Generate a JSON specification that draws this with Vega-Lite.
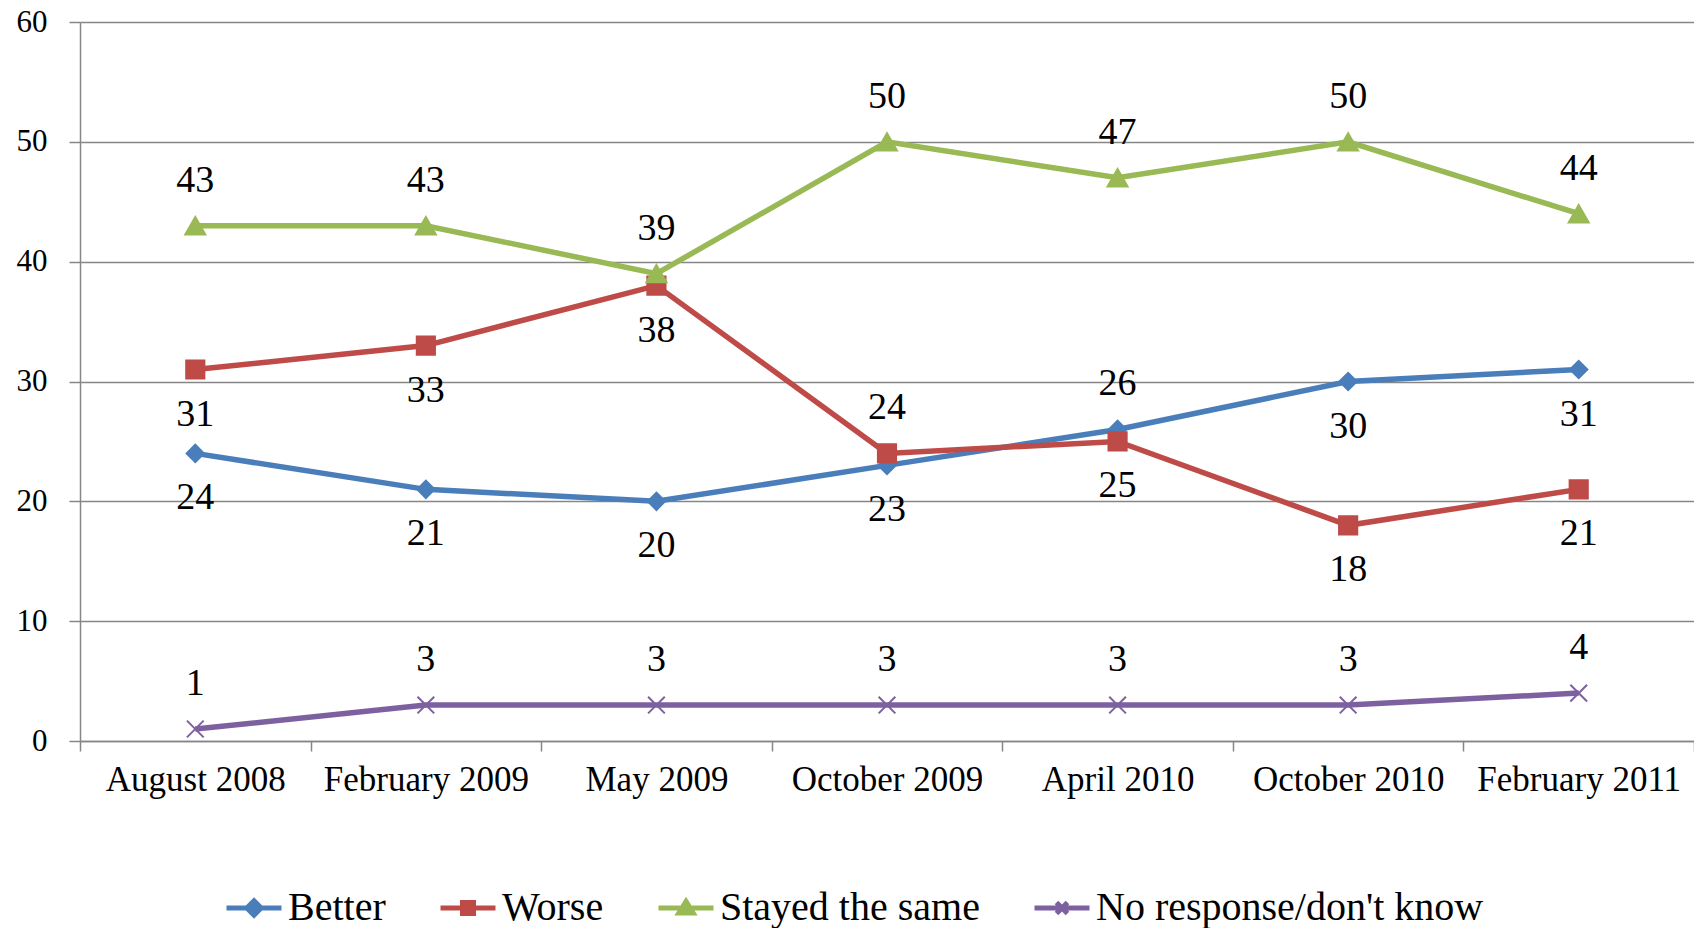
{
  "$schema": "https://vega.github.io/schema/vega-lite/v6.json",
  "autosize": {"type": "none"},
  "padding": {"left": 80, "top": 22, "right": 0, "bottom": 187},
  "width": 1614,
  "height": 719,
  "background": "white",
  "config": {
    "view": {"stroke": null},
    "font": "Liberation Serif",
    "legend": {"labelLimit": 800}
  },
  "data": {
    "values": [
      {"date": "August 2008", "series": "Better", "value": 24},
      {"date": "February 2009", "series": "Better", "value": 21},
      {"date": "May 2009", "series": "Better", "value": 20},
      {"date": "October 2009", "series": "Better", "value": 23},
      {"date": "April 2010", "series": "Better", "value": 26},
      {"date": "October 2010", "series": "Better", "value": 30},
      {"date": "February 2011", "series": "Better", "value": 31},
      {"date": "August 2008", "series": "Worse", "value": 31},
      {"date": "February 2009", "series": "Worse", "value": 33},
      {"date": "May 2009", "series": "Worse", "value": 38},
      {"date": "October 2009", "series": "Worse", "value": 24},
      {"date": "April 2010", "series": "Worse", "value": 25},
      {"date": "October 2010", "series": "Worse", "value": 18},
      {"date": "February 2011", "series": "Worse", "value": 21},
      {"date": "August 2008", "series": "Stayed the same", "value": 43},
      {"date": "February 2009", "series": "Stayed the same", "value": 43},
      {"date": "May 2009", "series": "Stayed the same", "value": 39},
      {"date": "October 2009", "series": "Stayed the same", "value": 50},
      {"date": "April 2010", "series": "Stayed the same", "value": 47},
      {"date": "October 2010", "series": "Stayed the same", "value": 50},
      {"date": "February 2011", "series": "Stayed the same", "value": 44},
      {"date": "August 2008", "series": "No response/don't know", "value": 1},
      {"date": "February 2009", "series": "No response/don't know", "value": 3},
      {"date": "May 2009", "series": "No response/don't know", "value": 3},
      {"date": "October 2009", "series": "No response/don't know", "value": 3},
      {"date": "April 2010", "series": "No response/don't know", "value": 3},
      {"date": "October 2010", "series": "No response/don't know", "value": 3},
      {"date": "February 2011", "series": "No response/don't know", "value": 4}
    ]
  },
  "encoding": {
    "x": {
      "field": "date",
      "type": "nominal",
      "sort": null,
      "scale": {"paddingInner": 0, "paddingOuter": 0},
      "axis": {
        "title": null,
        "labelAngle": 0,
        "labelLimit": 400,
        "tickBand": "extent",
        "tickSize": 10,
        "tickColor": "#868686",
        "tickWidth": 1.5,
        "domainColor": "#868686",
        "domainWidth": 1.5,
        "labelFont": "Liberation Serif",
        "labelFontSize": 35,
        "labelColor": "#000000",
        "labelPadding": 11,
        "grid": false
      }
    },
    "y": {
      "field": "value",
      "type": "quantitative",
      "scale": {"domain": [0, 60], "nice": false},
      "axis": {
        "title": null,
        "values": [0, 10, 20, 30, 40, 50, 60],
        "tickSize": 11,
        "tickColor": "#868686",
        "tickWidth": 1.5,
        "domainColor": "#868686",
        "domainWidth": 1.5,
        "gridColor": "#868686",
        "gridWidth": 1.5,
        "labelFont": "Liberation Serif",
        "labelFontSize": 31,
        "labelColor": "#000000",
        "labelPadding": 22
      }
    }
  },
  "layer": [
    {
      "transform": [{"filter": "datum.value < 0"}],
      "mark": {"type": "point", "filled": true, "size": 3025, "strokeWidth": 5, "opacity": 1},
      "encoding": {
        "color": {
          "field": "series", "type": "nominal",
          "scale": {"domain": ["Better", "Worse", "Stayed the same", "No response/don't know"], "range": ["#4A7EBB", "#BE4B48", "#98B954", "#7D60A0"]},
          "legend": {"title": null, "orient": "none", "legendX": 144, "legendY": 856, "direction": "horizontal", "columns": 4, "columnPadding": 44, "labelOffset": 4, "labelFontSize": 40, "labelFont": "Liberation Serif", "labelColor": "#000000", "symbolSize": 3025, "symbolStrokeWidth": 5, "symbolOpacity": 1, "padding": 0}
        },
        "stroke": {
          "field": "series", "type": "nominal",
          "scale": {"domain": ["Better", "Worse", "Stayed the same", "No response/don't know"], "range": ["#4A7EBB", "#BE4B48", "#98B954", "#7D60A0"]},
          "legend": {"title": null, "orient": "none", "legendX": 144, "legendY": 856, "direction": "horizontal", "columns": 4, "columnPadding": 44, "labelOffset": 4, "labelFontSize": 40, "labelFont": "Liberation Serif", "labelColor": "#000000", "symbolSize": 3025, "symbolStrokeWidth": 5, "symbolOpacity": 1, "padding": 0}
        },
        "shape": {
          "field": "series", "type": "nominal",
          "scale": {"domain": ["Better", "Worse", "Stayed the same", "No response/don't know"], "range": ["M-1,0L1,0M0,-0.26L0.26,0L0,0.26L-0.26,0Z", "M-1,0L1,0M-0.2,-0.2L0.2,-0.2L0.2,0.2L-0.2,0.2Z", "M-1,0L1,0M0,-0.24L0.26,0.18L-0.26,0.18Z", "M-1,0L1,0M-0.2,-0.2L0.2,0.2M-0.2,0.2L0.2,-0.2"]},
          "legend": {"title": null, "orient": "none", "legendX": 144, "legendY": 856, "direction": "horizontal", "columns": 4, "columnPadding": 44, "labelOffset": 4, "labelFontSize": 40, "labelFont": "Liberation Serif", "labelColor": "#000000", "symbolSize": 3025, "symbolStrokeWidth": 5, "symbolOpacity": 1, "padding": 0}
        }
      }
    },
    {
      "mark": {"type": "line", "strokeWidth": 5.5},
      "encoding": {
        "color": {"field": "series", "type": "nominal", "legend": {"title": null, "orient": "none", "legendX": 144, "legendY": 856, "direction": "horizontal", "columns": 4, "columnPadding": 44, "labelOffset": 4, "labelFontSize": 40, "labelFont": "Liberation Serif", "labelColor": "#000000", "symbolSize": 3025, "symbolStrokeWidth": 5, "symbolOpacity": 1, "padding": 0}},
        "order": {"value": null}
      }
    },
    {
      "mark": {"type": "point", "filled": true, "strokeWidth": 2, "opacity": 1},
      "encoding": {
        "color": {"field": "series", "type": "nominal", "legend": {"title": null, "orient": "none", "legendX": 144, "legendY": 856, "direction": "horizontal", "columns": 4, "columnPadding": 44, "labelOffset": 4, "labelFontSize": 40, "labelFont": "Liberation Serif", "labelColor": "#000000", "symbolSize": 3025, "symbolStrokeWidth": 5, "symbolOpacity": 1, "padding": 0}},
        "stroke": {"field": "series", "type": "nominal", "legend": {"title": null, "orient": "none", "legendX": 144, "legendY": 856, "direction": "horizontal", "columns": 4, "columnPadding": 44, "labelOffset": 4, "labelFontSize": 40, "labelFont": "Liberation Serif", "labelColor": "#000000", "symbolSize": 3025, "symbolStrokeWidth": 5, "symbolOpacity": 1, "padding": 0}},
        "shape": {
          "condition": [
            {"test": "datum.series === 'Better'", "value": "diamond"},
            {"test": "datum.series === 'Worse'", "value": "square"},
            {"test": "datum.series === 'Stayed the same'", "value": "triangle-up"}
          ],
          "value": "M-1,-1L1,1M-1,1L1,-1"
        },
        "size": {
          "condition": [
            {"test": "datum.series === 'Better'", "value": 300},
            {"test": "datum.series === 'Worse'", "value": 330},
            {"test": "datum.series === 'Stayed the same'", "value": 400}
          ],
          "value": 280
        }
      }
    },
    {
      "transform": [{"filter": "(datum.series !== 'Better' && datum.series !== 'Worse') || (datum.series === 'Better' && datum.date === 'April 2010') || (datum.series === 'Worse' && datum.date === 'October 2009')"}],
      "mark": {"type": "text", "dy": -45, "fontSize": 38, "font": "Liberation Serif", "color": "#000000", "baseline": "middle"},
      "encoding": {"text": {"field": "value", "type": "quantitative"}}
    },
    {
      "transform": [{"filter": "!((datum.series !== 'Better' && datum.series !== 'Worse') || (datum.series === 'Better' && datum.date === 'April 2010') || (datum.series === 'Worse' && datum.date === 'October 2009'))"}],
      "mark": {"type": "text", "dy": 45, "fontSize": 38, "font": "Liberation Serif", "color": "#000000", "baseline": "middle"},
      "encoding": {"text": {"field": "value", "type": "quantitative"}}
    }
  ]
}
